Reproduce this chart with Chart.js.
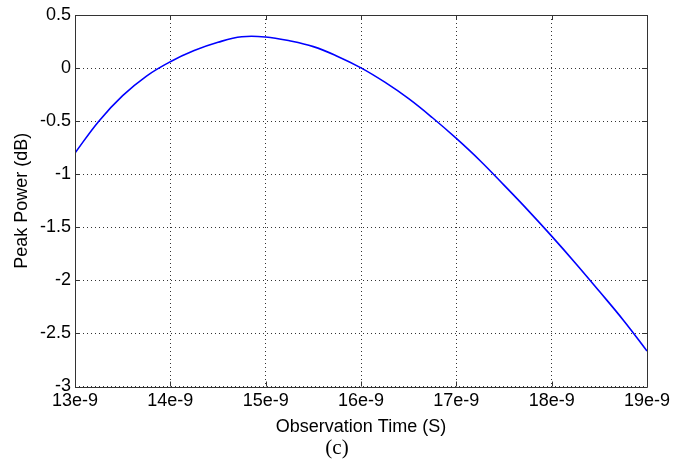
<!DOCTYPE html>
<html><head><meta charset="utf-8">
<script src="https://cdn.jsdelivr.net/npm/chart.js@4/dist/chart.umd.min.js"></script>
<style>html,body{margin:0;padding:0;background:#fff}#wrap{width:689px;height:468px}</style>
</head><body><div id="wrap"><canvas id="c" width="689" height="468"></canvas></div>
<script>
const timeNs = [13,13.25,13.5,13.75,14,14.25,14.5,14.75,15,15.25,15.5,15.75,16,16.25,16.5,16.75,17,17.25,17.5,17.75,18,18.25,18.5,18.75,19];
const peakPowerDb = [-0.80,-0.50,-0.26,-0.075,0.06,0.165,0.243,0.295,0.293,0.257,0.202,0.112,0.002,-0.133,-0.288,-0.468,-0.663,-0.873,-1.103,-1.338,-1.583,-1.838,-2.103,-2.373,-2.665];
const xTickValues = [13,14,15,16,17,18,19];
const xTickLabels = ['13e-9','14e-9','15e-9','16e-9','17e-9','18e-9','19e-9'];
const yTickValues = [0.5,0,-0.5,-1,-1.5,-2,-2.5,-3];
const yTickLabels = ['0.5','0','-0.5','-1','-1.5','-2','-2.5','-3'];

const FONT = '"Liberation Sans", Arial, sans-serif';

const boxPlugin = {
  id: 'box',
  afterDraw(chart) {
    const {ctx, chartArea: a, scales} = chart;
    ctx.save();
    ctx.strokeStyle = '#333';
    ctx.lineWidth = 1;
    ctx.beginPath();
    ctx.rect(Math.round(a.left)+0.5, Math.round(a.top)+0.5, Math.round(a.right-a.left), Math.round(a.bottom-a.top));
    ctx.stroke();
    const L = 5;
    ctx.beginPath();
    xTickValues.forEach(v => {
      const x = Math.round(scales.x.getPixelForValue(v)) + 0.5;
      ctx.moveTo(x, a.bottom); ctx.lineTo(x, a.bottom - L);
      ctx.moveTo(x, a.top); ctx.lineTo(x, a.top + L);
    });
    yTickValues.forEach(v => {
      const y = Math.round(scales.y.getPixelForValue(v)) + 0.5;
      ctx.moveTo(a.left, y); ctx.lineTo(a.left + L, y);
      ctx.moveTo(a.right, y); ctx.lineTo(a.right - L, y);
    });
    ctx.stroke();
    ctx.fillStyle = '#000';
    ctx.font = '21px "Liberation Serif", "Times New Roman", serif';
    ctx.textAlign = 'center';
    ctx.textBaseline = 'middle';
    ctx.fillText('(c)', 337, 448);
    ctx.restore();
  }
};

new Chart(document.getElementById('c'), {
  type: 'line',
  data: {
    datasets: [{
      data: timeNs.map((t, i) => ({x: t, y: peakPowerDb[i]})),
      borderColor: '#0000ff',
      borderWidth: 1.6,
      pointRadius: 0,
      fill: false,
      tension: 0.4
    }]
  },
  options: {
    responsive: false,
    animation: false,
    layout: {padding: {left: 0, right: 42, top: 15, bottom: 30.5}},
    plugins: {legend: {display: false}, tooltip: {enabled: false}},
    scales: {
      x: {
        type: 'linear', min: 13, max: 19,
        afterBuildTicks(s) { s.ticks = xTickValues.map(v => ({value: v})); },
        afterFit(s) { s.height = 51; },
        grid: {color: '#333', lineWidth: 1, drawTicks: false},
        border: {display: false, dash: [1,3]},
        ticks: {
          padding: 4, color: '#000', maxRotation: 0,
          font: {family: FONT, size: 18},
          callback: (v) => xTickLabels[xTickValues.indexOf(v)] ?? ''
        },
        title: {display: true, text: 'Observation Time (S)', color: '#000', font: {family: FONT, size: 18}, padding: {top: 0, bottom: 0}}
      },
      y: {
        type: 'linear', min: -3, max: 0.5,
        afterBuildTicks(s) { s.ticks = yTickValues.map(v => ({value: v})); },
        afterFit(s) { s.width = 75; },
        grid: {color: '#333', lineWidth: 1, drawTicks: false},
        border: {display: false, dash: [1,3]},
        ticks: {
          padding: 4, color: '#000',
          font: {family: FONT, size: 18},
          callback: (v) => yTickLabels[yTickValues.indexOf(v)] ?? ''
        },
        title: {display: true, text: 'Peak Power (dB)', color: '#000', font: {family: FONT, size: 18}, padding: {top: 11, bottom: 0}}
      }
    }
  },
  plugins: [boxPlugin]
});
</script>
</body></html>
